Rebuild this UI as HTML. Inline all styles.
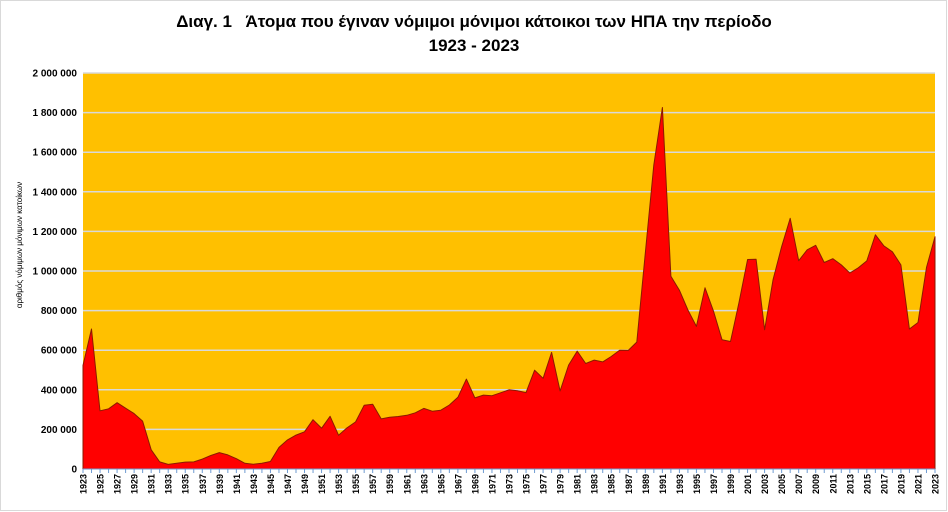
<!DOCTYPE html>
<html><head><meta charset="utf-8"><style>
html,body{margin:0;padding:0;background:#fff;}
svg{display:block;font-family:"Liberation Sans",sans-serif;}
</style></head><body>
<svg id="c" width="948" height="512" xmlns="http://www.w3.org/2000/svg">
<rect x="0.5" y="0.5" width="946" height="510" fill="#fff" stroke="#d9d9d9"/>
<text x="474" y="27" text-anchor="middle" font-size="17" font-weight="bold" style="white-space:pre">Διαγ. 1   Άτομα που έγιναν νόμιμοι μόνιμοι κάτοικοι των ΗΠΑ την περίοδο</text>
<text x="474" y="51" text-anchor="middle" font-size="17" font-weight="bold">1923 - 2023</text>
<rect x="83" y="73" width="852" height="396" fill="#FFC000"/>
<g id="g"></g>
<text transform="translate(22,245) rotate(-90)" text-anchor="middle" font-size="8">αριθμός νόμιμων μόνιμων κατοίκων</text>
</svg>
<script>
var d=[523,707,294,304,335,307,280,242,97,36,23,29,35,36,50,68,83,71,52,29,24,29,38,109,147,171,188,249,206,266,170,208,238,322,327,253,261,265,271,284,306,292,297,323,362,454,359,373,370,385,400,395,386,499,458,589,394,525,595,533,550,541,568,600,599,641,1090,1535,1826,973,903,803,720,915,797,653,644,841,1058,1059,703,957,1122,1266,1052,1107,1130,1043,1062,1031,990,1016,1051,1183,1127,1097,1031,707,740,1018,1173];
var x0=83,x1=935,y0=469,y1=73,g=document.getElementById('g'),h='';
function X(i){return x0+(x1-x0)*i/100}
function Y(v){return y0-(y0-y1)*v/2000}
for(var k=0;k<=10;k++){var y=Y(k*200);
 if(k>0)h+='<line x1="83" x2="935" y1="'+y+'" y2="'+y+'" stroke="#d9d9d9" stroke-width="1.5"/>';
 var s=(k*200000).toString().replace(/\B(?=(\d{3})+(?!\d))/g,' ');
 h+='<text x="77" y="'+(y+3.5)+'" text-anchor="end" font-size="10" font-weight="bold">'+s+'</text>';}
var p='M'+x0+','+y0;
for(var i=0;i<d.length;i++)p+=' L'+X(i).toFixed(1)+','+Y(d[i]).toFixed(1);
p+=' L'+x1+','+y0+' Z';
h+='<path d="'+p+'" fill="#FF0000" stroke="#8b1a00" stroke-width="1" stroke-linejoin="round"/>';
h+='<line x1="83" x2="935" y1="469" y2="469" stroke="#6f9bd1" stroke-width="1"/>';
for(var i=0;i<=100;i++){var x=X(i);h+='<line x1="'+x+'" x2="'+x+'" y1="469" y2="473" stroke="#6f9bd1"/>';
 if(i%2==0)h+='<text transform="translate('+(x+3.5)+',474) rotate(-90)" text-anchor="end" font-size="9" font-weight="bold">'+(1923+i)+'</text>';}
g.innerHTML=h;
</script>
</body></html>
